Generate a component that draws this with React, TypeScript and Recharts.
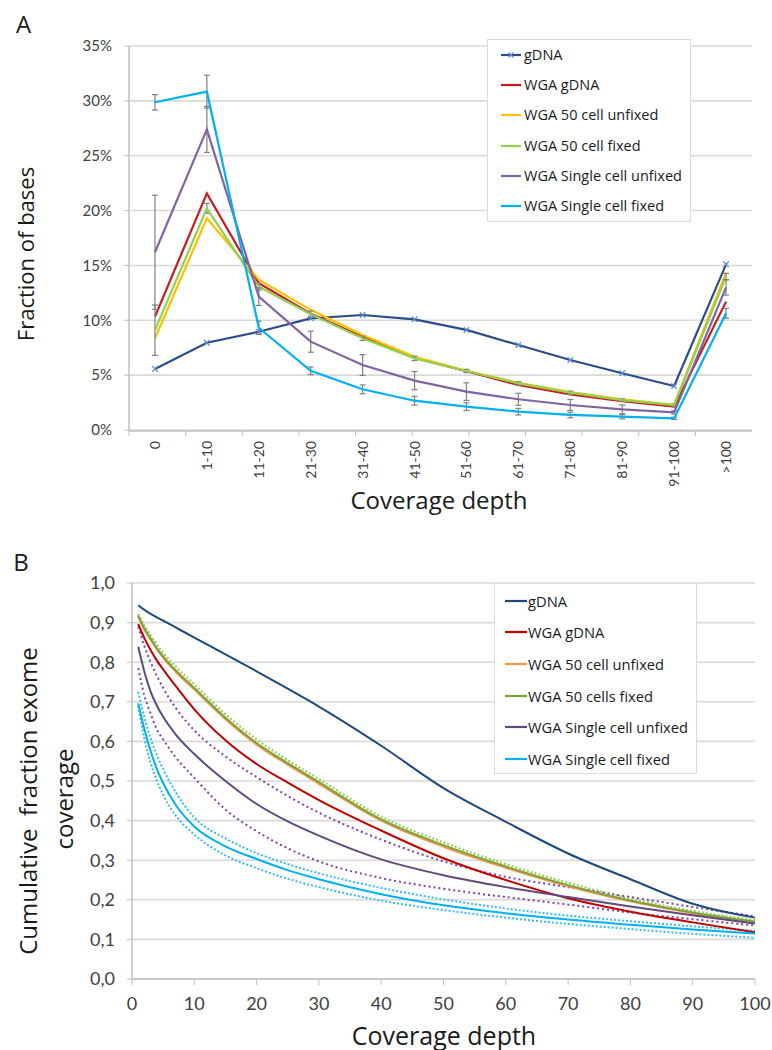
import React from "react";
import { ComposedChart, LineChart, Line, XAxis, YAxis, CartesianGrid, ErrorBar, Legend } from "recharts";

// ---------- Panel A data (fraction of bases, %) ----------
const depthBins = ["0", "1-10", "11-20", "21-30", "31-40", "41-50", "51-60", "61-70", "71-80", "81-90", "91-100", ">100"];
const gDNA_A = [5.56, 7.95, 8.96, 10.18, 10.48, 10.09, 9.12, 7.75, 6.38, 5.17, 4.01, 15.1];
const wgaGDNA_A = [10.33, 21.57, 13.37, 10.6, 8.5, 6.6, 5.35, 4.1, 3.25, 2.64, 2.13, 11.7];
const wga50Unfixed_A = [8.36, 19.3, 13.7, 10.95, 8.66, 6.68, 5.4, 4.3, 3.45, 2.8, 2.3, 14.34];
const wga50Fixed_A = [9.1, 20.2, 13.06, 10.55, 8.36, 6.53, 5.38, 4.25, 3.4, 2.73, 2.28, 13.98];
const singleUnfixed_A = [16.2, 27.4, 12.15, 8.05, 5.92, 4.5, 3.5, 2.8, 2.28, 1.88, 1.61, 13.0];
const singleFixed_A = [29.87, 30.84, 9.32, 5.4, 3.71, 2.67, 2.13, 1.67, 1.37, 1.22, 1.06, 10.64];
const wga50FixedErr_A = [2.3, 0.45, 0.3, 0.3, 0.2, 0.2, 0.15, 0.15, 0.15, 0.1, 0.1, 0.3];
const singleUnfixedErr_A = [5.2, 2.1, 0.8, 0.96, 0.95, 0.83, 0.8, 0.55, 0.5, 0.4, 0.15, 0.7];
const singleFixedErr_A = [0.7, 1.5, 0.6, 0.35, 0.4, 0.4, 0.35, 0.3, 0.25, 0.2, 0.1, 0.45];
const yTicksA = [0, 5, 10, 15, 20, 25, 30, 35];
const binEdgesA = [0, 1, 2, 3, 4, 5, 6, 7, 8, 9, 10, 11, 12];

// ---------- Panel B data (cumulative fraction exome coverage) ----------
const coverageX = [1, 2, 3, 4, 5, 7, 10, 15, 20, 25, 30, 40, 50, 60, 70, 80, 90, 100];
const gDNA_B = [0.944, 0.932, 0.922, 0.913, 0.905, 0.888, 0.862, 0.82, 0.777, 0.733, 0.688, 0.589, 0.482, 0.397, 0.317, 0.252, 0.19, 0.155];
const wgaGDNA_B = [0.896, 0.86, 0.83, 0.804, 0.782, 0.74, 0.681, 0.603, 0.543, 0.496, 0.452, 0.375, 0.305, 0.25, 0.204, 0.17, 0.143, 0.118];
const wga50Unfixed_B = [0.915, 0.882, 0.856, 0.832, 0.811, 0.776, 0.731, 0.656, 0.592, 0.541, 0.493, 0.4, 0.334, 0.281, 0.234, 0.196, 0.166, 0.143];
const wga50Fixed_B = [0.917, 0.885, 0.86, 0.835, 0.815, 0.78, 0.735, 0.66, 0.596, 0.545, 0.497, 0.403, 0.338, 0.284, 0.237, 0.198, 0.168, 0.145];
const wga50FixedUpper_B = [0.922, 0.892, 0.868, 0.844, 0.824, 0.789, 0.744, 0.669, 0.605, 0.553, 0.505, 0.41, 0.345, 0.29, 0.243, 0.203, 0.172, 0.149];
const singleUnfixed_B = [0.839, 0.775, 0.725, 0.69, 0.662, 0.618, 0.568, 0.5, 0.442, 0.398, 0.362, 0.302, 0.262, 0.232, 0.207, 0.183, 0.161, 0.14];
const singleUnfixedUpper_B = [0.89, 0.84, 0.8, 0.765, 0.735, 0.685, 0.628, 0.562, 0.51, 0.462, 0.42, 0.352, 0.297, 0.258, 0.232, 0.207, 0.182, 0.158];
const singleUnfixedLower_B = [0.785, 0.715, 0.67, 0.63, 0.605, 0.56, 0.508, 0.428, 0.373, 0.33, 0.297, 0.255, 0.228, 0.207, 0.188, 0.168, 0.151, 0.135];
const singleFixed_B = [0.696, 0.63, 0.575, 0.53, 0.495, 0.44, 0.385, 0.335, 0.303, 0.275, 0.252, 0.214, 0.186, 0.166, 0.15, 0.137, 0.125, 0.115];
const singleFixedUpper_B = [0.725, 0.66, 0.607, 0.565, 0.53, 0.472, 0.408, 0.355, 0.318, 0.29, 0.267, 0.23, 0.201, 0.178, 0.16, 0.146, 0.133, 0.122];
const singleFixedLower_B = [0.69, 0.605, 0.545, 0.5, 0.465, 0.413, 0.365, 0.312, 0.28, 0.253, 0.232, 0.198, 0.174, 0.155, 0.139, 0.126, 0.114, 0.104];
const xTicksB = [0, 10, 20, 30, 40, 50, 60, 70, 80, 90, 100];
const yTicksB = [0, 0.1, 0.2, 0.3, 0.4, 0.5, 0.6, 0.7, 0.8, 0.9, 1.0];

// ---------- styling ----------
const TICK = "#404040";
const GRID = "#D9D9D9";
const AXIS = "#BFBFBF";
const TITLE = "#1a1a1a";

const colA = {
  gDNA: "#2C4D87",
  gDNAMark: "#5B8BD0",
  red: "#C91A1F",
  yellow: "#FFC000",
  green: "#92D050",
  purple: "#8064A2",
  cyan: "#00B0F0",
};
const colB = {
  gDNA: "#1F497D",
  red: "#C00000",
  orange: "#F79646",
  green: "#7CA23C",
  greenDot: "#9BCF55",
  purple: "#604A7B",
  purpleDot: "#8040B0",
  cyan: "#00B0F0",
  cyanDot: "#33BDF2",
};

const legendItemsA = [
  { name: "gDNA", color: colA.gDNA, marker: true },
  { name: "WGA gDNA", color: colA.red },
  { name: "WGA 50 cell unfixed", color: colA.yellow },
  { name: "WGA 50 cell fixed", color: colA.green },
  { name: "WGA Single cell unfixed", color: colA.purple },
  { name: "WGA Single cell fixed", color: colA.cyan },
];
const legendItemsB = [
  { name: "gDNA", color: colB.gDNA },
  { name: "WGA gDNA", color: colB.red },
  { name: "WGA 50 cell unfixed", color: colB.orange },
  { name: "WGA 50 cells fixed", color: colB.green },
  { name: "WGA Single cell unfixed", color: colB.purple },
  { name: "WGA Single cell fixed", color: colB.cyan },
];

const dataA = depthBins.map((bin, i) => ({
  bin,
  gDNA: gDNA_A[i],
  wgaGDNA: wgaGDNA_A[i],
  wga50Unfixed: wga50Unfixed_A[i],
  wga50Fixed: wga50Fixed_A[i],
  singleUnfixed: singleUnfixed_A[i],
  singleFixed: singleFixed_A[i],
  wga50FixedErr: wga50FixedErr_A[i],
  singleUnfixedErr: singleUnfixedErr_A[i],
  singleFixedErr: singleFixedErr_A[i],
}));

const dataB = coverageX.map((x, i) => ({
  x,
  gDNA: gDNA_B[i],
  wgaGDNA: wgaGDNA_B[i],
  wga50Unfixed: wga50Unfixed_B[i],
  wga50Fixed: wga50Fixed_B[i],
  wga50FixedUpper: wga50FixedUpper_B[i],
  singleUnfixed: singleUnfixed_B[i],
  singleUnfixedUpper: singleUnfixedUpper_B[i],
  singleUnfixedLower: singleUnfixedLower_B[i],
  singleFixed: singleFixed_B[i],
  singleFixedUpper: singleFixedUpper_B[i],
  singleFixedLower: singleFixedLower_B[i],
}));

function XMark(props: any) {
  const { cx, cy, index } = props;
  if (cx == null || cy == null) return <g key={index} />;
  const s = 2.8;
  return (
    <g key={"m" + index}>
      <line x1={cx - s} y1={cy - s} x2={cx + s} y2={cy + s} stroke={colA.gDNAMark} strokeWidth={1.2} />
      <line x1={cx - s} y1={cy + s} x2={cx + s} y2={cy - s} stroke={colA.gDNAMark} strokeWidth={1.2} />
    </g>
  );
}

function CategoryTick(props: any) {
  const { x, y, payload } = props;
  return (
    <text
      x={x}
      y={y}
      transform={`rotate(-90, ${x}, ${y})`}
      textAnchor="end"
      dy="0.36em"
      fontFamily="Lato"
      fontSize={14}
      fill={TICK}
    >
      {payload.value}
    </text>
  );
}

function NoTick() {
  return <g />;
}

function makeLegend(
  items: { name: string; color: string; marker?: boolean }[],
  o: { w: number; h: number; segLeft: number; segW: number; gap: number; firstY: number; step: number; fontSize: number }
) {
  return function LegendBox() {
    return (
      <div
        style={{
          position: "relative",
          width: o.w,
          height: o.h,
          boxSizing: "border-box",
          border: "1px solid #DCDCDC",
          background: "#fff",
          fontFamily: "'Open Sans'",
          fontSize: o.fontSize,
          color: "#1a1a1a",
        }}
      >
        {items.map((it, i) => (
          <div
            key={it.name}
            style={{
              position: "absolute",
              left: o.segLeft,
              top: o.firstY + i * o.step - 11,
              height: 22,
              display: "flex",
              alignItems: "center",
              whiteSpace: "nowrap",
            }}
          >
            <svg width={o.segW} height={8} style={{ display: "block" }}>
              <line x1={0} y1={4} x2={o.segW} y2={4} stroke={it.color} strokeWidth={2.2} />
              {it.marker ? (
                <g>
                  <line x1={o.segW / 2 - 2.5} y1={1.5} x2={o.segW / 2 + 2.5} y2={6.5} stroke={colA.gDNAMark} strokeWidth={1.1} />
                  <line x1={o.segW / 2 - 2.5} y1={6.5} x2={o.segW / 2 + 2.5} y2={1.5} stroke={colA.gDNAMark} strokeWidth={1.1} />
                </g>
              ) : null}
            </svg>
            <span style={{ marginLeft: o.gap, lineHeight: "22px" }}>{it.name}</span>
          </div>
        ))}
      </div>
    );
  };
}

const LegendA = makeLegend(legendItemsA, { w: 204, h: 183, segLeft: 13, segW: 20, gap: 3, firstY: 14.7, step: 30.3, fontSize: 14.5 });
const LegendB = makeLegend(legendItemsB, { w: 203, h: 191, segLeft: 10, segW: 22, gap: 1, firstY: 16.6, step: 31.7, fontSize: 14.7 });

function Text(props: { x: number; y: number; size: number; rotate?: boolean; children: React.ReactNode }) {
  return (
    <div
      style={{
        position: "absolute",
        left: props.x,
        top: props.y,
        transform: `translate(-50%, -50%)${props.rotate ? " rotate(-90deg)" : ""}`,
        fontFamily: "'Open Sans'",
        fontSize: props.size,
        lineHeight: 1,
        whiteSpace: "pre",
        color: TITLE,
      }}
    >
      {props.children}
    </div>
  );
}

export default function App() {
  return (
    <div style={{ position: "absolute", left: 0, top: 0, width: 772, height: 1050, background: "#fff", overflow: "hidden" }}>
      {/* Panel A */}
      <div style={{ position: "absolute", left: 0, top: 0 }}>
        <ComposedChart width={772} height={520} data={dataA} margin={{ top: 46, right: 20, left: 0, bottom: 32 }}>
          <CartesianGrid xAxisId="cat" vertical={false} stroke={GRID} strokeWidth={1.6} />
          <XAxis
            xAxisId="ticks"
            type="number"
            domain={[0, 12]}
            ticks={binEdgesA}
            tick={NoTick}
            tickSize={5}
            height={57}
            tickLine={{ stroke: AXIS }}
            axisLine={{ stroke: AXIS, strokeWidth: 1.5 }}
          />
          <XAxis
            xAxisId="cat"
            dataKey="bin"
            type="category"
            scale="band"
            height={1}
            tick={CategoryTick}
            tickLine={false}
            axisLine={false}
            tickSize={0}
            tickMargin={11}
            interval={0}
          />
          <YAxis
            width={129}
            domain={[0, 35]}
            ticks={yTicksA}
            tickFormatter={(v: number) => `${v}%`}
            tick={{ fontFamily: "Lato", fontSize: 15, fill: TICK }}
            tickSize={5}
            tickMargin={12}
            tickLine={{ stroke: AXIS }}
            axisLine={{ stroke: AXIS, strokeWidth: 1.5 }}
          />
          <Legend layout="vertical" align="center" verticalAlign="middle" content={LegendA} wrapperStyle={{ left: 487, top: 39, width: 204, height: 183 }} />
          <Line xAxisId="cat" dataKey="gDNA" name="gDNA" stroke={colA.gDNA} strokeWidth={2.2} dot={XMark} activeDot={false} isAnimationActive={false} />
          <Line xAxisId="cat" dataKey="wgaGDNA" name="WGA gDNA" stroke={colA.red} strokeWidth={2.2} dot={false} activeDot={false} isAnimationActive={false} />
          <Line xAxisId="cat" dataKey="wga50Unfixed" name="WGA 50 cell unfixed" stroke={colA.yellow} strokeWidth={2.2} dot={false} activeDot={false} isAnimationActive={false} />
          <Line xAxisId="cat" dataKey="wga50Fixed" name="WGA 50 cell fixed" stroke={colA.green} strokeWidth={2.2} dot={false} activeDot={false} isAnimationActive={false}>
            <ErrorBar dataKey="wga50FixedErr" direction="y" width={3} stroke="#808080" strokeWidth={1.2} />
          </Line>
          <Line xAxisId="cat" dataKey="singleUnfixed" name="WGA Single cell unfixed" stroke={colA.purple} strokeWidth={2.2} dot={false} activeDot={false} isAnimationActive={false}>
            <ErrorBar dataKey="singleUnfixedErr" direction="y" width={3} stroke="#808080" strokeWidth={1.2} />
          </Line>
          <Line xAxisId="cat" dataKey="singleFixed" name="WGA Single cell fixed" stroke={colA.cyan} strokeWidth={2.2} dot={false} activeDot={false} isAnimationActive={false}>
            <ErrorBar dataKey="singleFixedErr" direction="y" width={3} stroke="#808080" strokeWidth={1.2} />
          </Line>
        </ComposedChart>
      </div>

      {/* Panel B */}
      <div style={{ position: "absolute", left: 0, top: 540 }}>
        <LineChart width={772} height={510} data={dataB} margin={{ top: 43, right: 17, left: 0, bottom: 0 }}>
          <CartesianGrid vertical={false} stroke={GRID} strokeWidth={1.6} />
          <XAxis
            dataKey="x"
            type="number"
            domain={[0, 100]}
            ticks={xTicksB}
            height={71}
            tick={{ fontFamily: "Lato", fontSize: 18, fill: TICK }}
            tickSize={6}
            tickMargin={12}
            tickLine={{ stroke: AXIS }}
            axisLine={{ stroke: AXIS, strokeWidth: 1.5 }}
          />
          <YAxis
            width={132}
            domain={[0, 1]}
            ticks={yTicksB}
            tickFormatter={(v: number) => v.toFixed(1).replace(".", ",")}
            tick={{ fontFamily: "Lato", fontSize: 18, fill: TICK }}
            tickSize={5}
            tickMargin={12}
            tickLine={{ stroke: AXIS }}
            axisLine={{ stroke: AXIS, strokeWidth: 1.5 }}
          />
          <Legend layout="vertical" align="center" verticalAlign="middle" content={LegendB} wrapperStyle={{ left: 494, top: 43, width: 203, height: 191 }} />
          <Line type="monotone" dataKey="wga50FixedUpper" stroke={colB.greenDot} strokeWidth={2.2} strokeDasharray="2 2" dot={false} activeDot={false} isAnimationActive={false} legendType="none" />
          <Line type="monotone" dataKey="singleUnfixedUpper" stroke={colB.purpleDot} strokeWidth={2} strokeDasharray="2 3" dot={false} activeDot={false} isAnimationActive={false} legendType="none" />
          <Line type="monotone" dataKey="singleUnfixedLower" stroke={colB.purpleDot} strokeWidth={2} strokeDasharray="2 3" dot={false} activeDot={false} isAnimationActive={false} legendType="none" />
          <Line type="monotone" dataKey="singleFixedUpper" stroke={colB.cyanDot} strokeWidth={2} strokeDasharray="2 2" dot={false} activeDot={false} isAnimationActive={false} legendType="none" />
          <Line type="monotone" dataKey="singleFixedLower" stroke={colB.cyanDot} strokeWidth={2} strokeDasharray="2 2" dot={false} activeDot={false} isAnimationActive={false} legendType="none" />
          <Line type="monotone" dataKey="gDNA" name="gDNA" stroke={colB.gDNA} strokeWidth={2} dot={false} activeDot={false} isAnimationActive={false} />
          <Line type="monotone" dataKey="wgaGDNA" name="WGA gDNA" stroke={colB.red} strokeWidth={2} dot={false} activeDot={false} isAnimationActive={false} />
          <Line type="monotone" dataKey="wga50Unfixed" name="WGA 50 cell unfixed" stroke={colB.orange} strokeWidth={2} dot={false} activeDot={false} isAnimationActive={false} />
          <Line type="monotone" dataKey="wga50Fixed" name="WGA 50 cells fixed" stroke={colB.green} strokeWidth={2} dot={false} activeDot={false} isAnimationActive={false} />
          <Line type="monotone" dataKey="singleUnfixed" name="WGA Single cell unfixed" stroke={colB.purple} strokeWidth={2} dot={false} activeDot={false} isAnimationActive={false} />
          <Line type="monotone" dataKey="singleFixed" name="WGA Single cell fixed" stroke={colB.cyan} strokeWidth={2} dot={false} activeDot={false} isAnimationActive={false} />
        </LineChart>
      </div>

      {/* Titles and panel letters */}
      <Text x={23.5} y={24} size={24}>A</Text>
      <Text x={25} y={254} size={22} rotate>Fraction of bases</Text>
      <Text x={439} y={500} size={24}>Coverage depth</Text>

      <Text x={21} y={562} size={24}>B</Text>
      <Text x={28} y={801} size={24} rotate>{"Cumulative  fraction exome"}</Text>
      <Text x={64} y={799} size={24} rotate>coverage</Text>
      <Text x={444} y={1035} size={25}>Coverage depth</Text>
    </div>
  );
}
